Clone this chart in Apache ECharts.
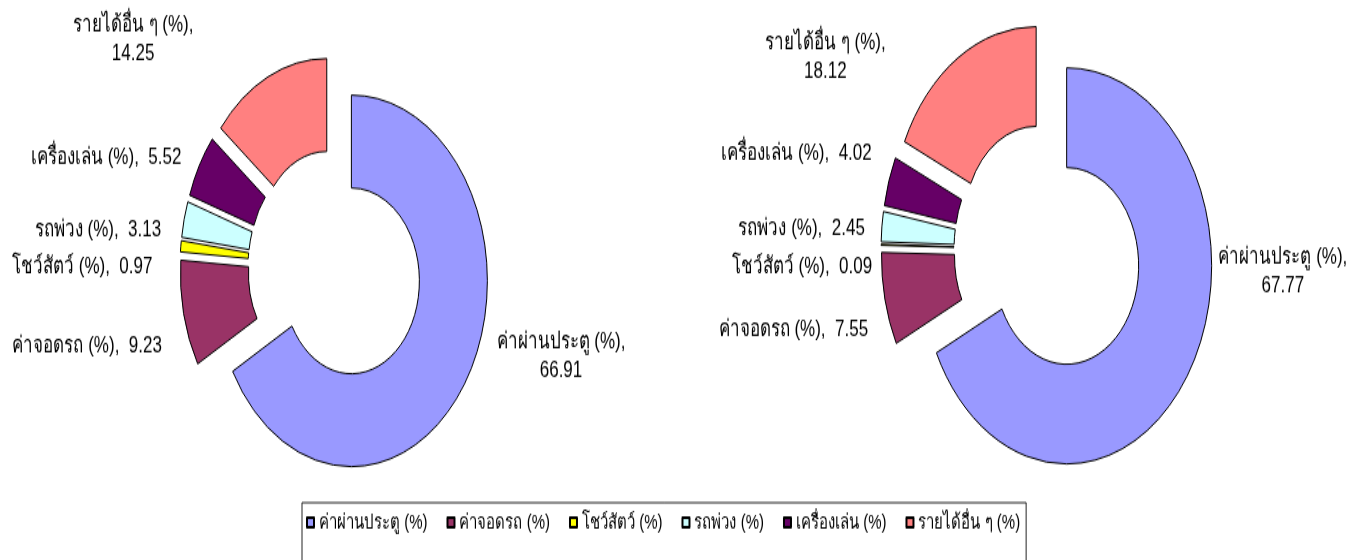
<!DOCTYPE html>
<html><head><meta charset="utf-8">
<script src="https://cdn.jsdelivr.net/npm/echarts@6/dist/echarts.min.js"></script>
<style>
html,body{margin:0;padding:0;background:#fff;overflow:hidden;}
#wrap{width:1364px;height:560px;overflow:hidden;position:relative;background:#fff;}
#chart{width:1364px;height:410px;transform:scaleY(1.3659);transform-origin:0 0;}
</style></head><body>
<div id="wrap"><div id="chart"></div></div>
<script>
const categories = ['ค่าผ่านประตู (%)','ค่าจอดรถ (%)','โชว์สัตว์ (%)','รถพ่วง (%)','เครื่องเล่น (%)','รายได้อื่น ๆ (%)'];
const valuesLeft = [66.91, 9.23, 0.97, 3.13, 5.52, 14.25];
const valuesRight = [67.77, 7.55, 0.09, 2.45, 4.02, 18.12];
const colors = ['#9999FF','#993366','#FFFF00','#CCFFFF','#660066','#FF8080'];
const wrapLabel = [true,false,false,false,false,true];

// label nudges (dx, dy) per pie, per slice, to mimic the original label placement
const labelNudge = [
  [[12,-18],[-10,22],[-16,11],[-11,9.5],[-6,-2],[-62,-20]],
  [[13,-77],[-5,20.5],[3,6],[-5,2],[-5,-17.6],[-59,6]]
];

const FONT = '"Liberation Sans", Arial, "Noto Sans", sans-serif';

function labelText(p){
  return wrapLabel[p.dataIndex] ? '{t|' + p.name + ',}\n{t|' + p.value + '}' : p.name + ',  ' + p.value;
}

function pie(values, center, radius, offset, si){
  return {
    type:'pie', center:center, radius:radius, startAngle:90, clockwise:true,
    selectedMode:'multiple', selectedOffset:offset,
    avoidLabelOverlap:true,
    itemStyle:{borderColor:'#000', borderWidth:1},
    label:{show:true, position:'outside', formatter:labelText, color:'#000',
      fontSize:17, fontFamily:FONT, lineHeight:21,
      rich:{t:{align:'center', fontSize:17, fontFamily:FONT, color:'#000', lineHeight:21}}},
    labelLine:{show:false, length:8, length2:4},
    labelLayout:function(p){ const n = labelNudge[si][p.dataIndex]; return {dx:n[0], dy:n[1]}; },
    emphasis:{disabled:true},
    data: values.map(function(v,i){ return {name:categories[i], value:v, selected:true, itemStyle:{color:colors[i]}}; })
  };
}

const chart = echarts.init(document.getElementById('chart'), null, {renderer:'canvas'});
chart.setOption({
  animation:false,
  backgroundColor:'#fff',
  color:colors,
  legend:{
    data:categories, left:302, top:368, orient:'horizontal',
    icon:'rect', itemWidth:7, itemHeight:7, itemGap:19,
    padding:[7,6,40,4],
    borderColor:'#222', borderWidth:1,
    textStyle:{fontSize:15, color:'#000', fontFamily:FONT},
    selectedMode:false
  },
  series:[
    pie(valuesLeft, [335, 196], [68, 136], 19, 0),
    pie(valuesRight, [1048, 183], [72, 145], 22, 1)
  ]
});
</script>
</body></html>
